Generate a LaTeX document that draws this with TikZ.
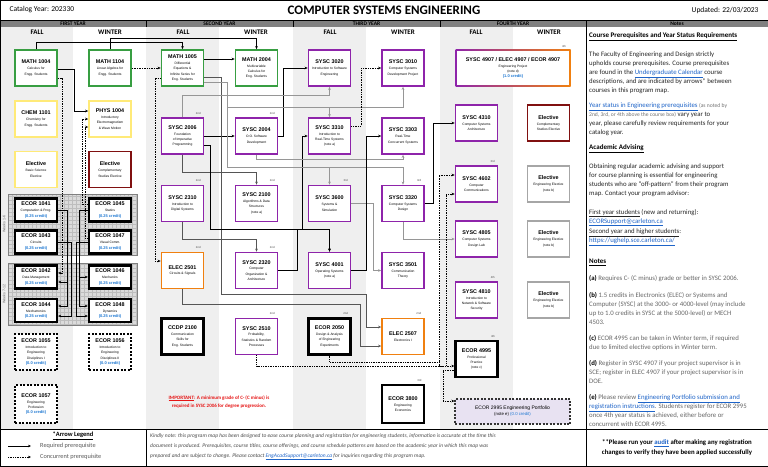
\documentclass[tikz,border=0pt]{standalone}
\usepackage{fontspec}
\setmainfont{Carlito}
\setsansfont{Liberation Sans}
\usetikzlibrary{arrows.meta,positioning,calc}

\definecolor{mathgreen}{RGB}{56,158,66}
\definecolor{sciyellow}{RGB}{255,234,120}
\definecolor{compred}{RGB}{128,16,16}
\definecolor{sysc}{RGB}{142,36,170}
\definecolor{elecorange}{RGB}{240,128,16}
\definecolor{fallgrey}{RGB}{239,239,239}
\definecolor{bargrey}{RGB}{128,128,128}
\definecolor{creditblue}{RGB}{30,120,210}
\definecolor{linkblue}{RGB}{30,100,200}
\definecolor{wire}{RGB}{150,150,150}
\definecolor{darkwire}{RGB}{85,85,85}
\definecolor{portfolio}{RGB}{232,226,242}
\definecolor{impred}{RGB}{230,20,20}

\tikzset{
  course/.style={draw, fill=white, line width=1.7pt, minimum width=42pt, minimum height=36pt,
    inner sep=0.5pt, align=center, font=\sffamily\fontsize{3.3}{5.4}\selectfont},
  mathbox/.style={course, draw=mathgreen},
  scibox/.style={course, draw=sciyellow},
  compbox/.style={course, draw=compred},
  syscbox/.style={course, draw=sysc},
  elecbox/.style={course, draw=elecorange},
  ecorbox/.style={course, draw=black, line width=2.4pt},
  ecorweek/.style={ecorbox, minimum height=23pt},
  zerobox/.style={course, draw=black, line width=1.3pt, dash pattern=on 2pt off 1.5pt},
  engelec/.style={course, draw=black!35},
  portbox/.style={draw=black!80, fill=portfolio, line width=1.2pt, dash pattern=on 2pt off 1.5pt,
    minimum width=115pt, minimum height=25pt, align=center, font=\sffamily\fontsize{4.3}{6}\selectfont},
  tag/.style={font=\sffamily\fontsize{2.8}{3}\selectfont, text=black!70, inner sep=0.5pt, anchor=south east},
  req/.style={line width=0.8pt, -{Stealth[length=3pt,width=2.6pt]}},
  darkreq/.style={req, draw=darkwire},
  grayreq/.style={req, draw=wire, line width=1pt},
  conc/.style={req, dash pattern=on 1pt off 0.7pt},
  notetext/.style={anchor=north west, inner sep=0pt, align=left, font=\fontsize{6.8}{9}\selectfont, text=black!85},
  notehead/.style={anchor=west, inner sep=0pt, font=\fontsize{7}{8}\selectfont\bfseries},
  season/.style={font=\fontsize{7}{8}\selectfont\bfseries},
  legtext/.style={anchor=west, inner sep=0pt, font=\fontsize{6.3}{7}\selectfont, text=black!65},
}
\newcommand{\code}[1]{{\fontsize{5.4}{6}\selectfont\bfseries #1}\\[0.5pt]}
\newcommand{\credit}[1]{{\color{creditblue}\fontsize{4}{5}\selectfont\bfseries (#1 credit)}}
\newcommand{\weblink}[1]{\textcolor{linkblue}{\underline{#1}}}

\begin{document}
\begin{tikzpicture}[x=1pt, y=-1pt]
\useasboundingbox (0,0) rectangle (768,466);
\fill[white] (0,0) rectangle (768,466);

% term columns
\foreach \x in {0,146,293,440}
  \fill[fallgrey] (\x,27) rectangle ++(73,402);
\fill[bargrey] (0,20) rectangle (768,27);
\draw[line width=0.6pt] (0,20) -- (768,20);
\foreach \x in {146,293,440}
  \draw[line width=0.8pt] (\x,20) -- (\x,27);
\draw[line width=0.8pt] (586,20) -- (586,466);
\draw[line width=0.8pt] (0,429) -- (768,429);
\draw[line width=0.8pt] (146,429) -- (146,466);
\draw[line width=0.8pt] (0,0) rectangle (768,466);

% header
\node[anchor=west, font=\fontsize{7.5}{8}\selectfont] (catalog) at (6,10) {Catalog Year: 202330};
\node[font=\fontsize{13}{14}\selectfont\bfseries] (title) at (384,10) {COMPUTER SYSTEMS ENGINEERING};
\node[anchor=east, font=\fontsize{7.5}{8}\selectfont] (updated) at (762,10) {Updated: 22/03/2023};
\foreach \lab/\x in {FIRST YEAR/73, SECOND YEAR/219.5, THIRD YEAR/366.5, FOURTH YEAR/513, Notes/677}
  \node[font=\fontsize{5.5}{6}\selectfont\bfseries] at (\x,23.5) {\lab};
\foreach \x in {37,183,330,476}
  \node[season] at (\x,32) {FALL};
\foreach \x in {110,256,403,549}
  \node[season] at (\x,32) {WINTER};

% ECOR blocks
\foreach \ya/\yb in {194/255, 263/325} {
  \fill[black!14] (8,\ya) rectangle (137,\yb);
  \draw[black!26, line width=0.35pt, step=4pt] (8,\yb) grid (137,\ya);
  \draw[black!50, line width=0.6pt] (8,\ya) rectangle (137,\yb);
}
\node[rotate=90, font=\sffamily\fontsize{3.6}{4}\selectfont, text=black!60] (wk1) at (4,224) {Weeks 1-6};
\node[rotate=90, font=\sffamily\fontsize{3.6}{4}\selectfont, text=black!60] (wk2) at (4,294) {Weeks 7-12};

% first year
\node[mathbox] (m1004) at (36,68) {\code{MATH 1004}Calculus for\\Engg. Students};
\node[mathbox] (m1104) at (110,68) {\code{MATH 1104}Linear Algebra for\\Engg. Students};
\node[scibox] (c1101) at (36,119) {\code{CHEM 1101}Chemistry for\\Engg. Students};
\node[scibox] (p1004) at (110,119) {\code{PHYS 1004}Introductory\\Electromagnetism\\\& Wave Motion};
\node[scibox] (bse) at (36,169.5) {\code{Elective}Basic Science\\Elective};
\node[compbox] (cse1) at (110,169.5) {\code{Elective}Complementary\\Studies Elective};
\foreach \num/\ttl/\x/\y in {1041/Computation \& Prog./36/210, 1045/Statics/110/210,
    1043/Circuits/36/242, 1047/Visual Comm./110/242, 1042/Data Management/36/277,
    1046/Mechanics/110/277, 1044/Mechatronics/36/310.5, 1048/Dynamics/110/310.5}
  \node[ecorweek] (e\num) at (\x,\y) {\code{ECOR \num}\ttl\\\credit{0.25}};
\node[zerobox] (e1055) at (36,352) {\code{ECOR 1055}Introduction to\\Engineering\\Disciplines I\\\credit{0.0}};
\node[zerobox] (e1056) at (110,352) {\code{ECOR 1056}Introduction to\\Engineering\\Disciplines II\\\credit{0.0}};
\node[zerobox, minimum height=38pt] (e1057) at (36,404) {\code{ECOR 1057}Engineering\\Profession\\\credit{0.0}};

% second year
\node[mathbox] (m1005) at (182.5,68) {\code{MATH 1005}Differential\\Equations \&\\Infinite Series for\\Eng. Students};
\node[mathbox] (m2004) at (256.5,68) {\code{MATH 2004}Multivariable\\Calculus for\\Eng. Students};
\node[syscbox] (s2006) at (182.5,136) {\code{SYSC 2006}Foundation\\of Imperative\\Programming};
\node[syscbox] (s2004) at (256.5,136) {\code{SYSC 2004}O.O. Software\\Development};
\node[syscbox] (s2310) at (182.5,203.5) {\code{SYSC 2310}Introduction to\\Digital Systems};
\node[syscbox] (s2100) at (256.5,203.5) {\code{SYSC 2100}Algorithms \& Data\\Structures\\(note a)};
\node[elecbox] (l2501) at (182.5,270.5) {\code{ELEC 2501}Circuits \& Signals};
\node[syscbox] (s2320) at (256.5,270.5) {\code{SYSC 2320}Computer\\Organization \&\\Architecture};
\node[ecorbox] (c2100) at (182.5,336.5) {\code{CCDP 2100}Communication\\Skills for\\Eng. Students};
\node[syscbox] (s2510) at (256.5,336.5) {\code{SYSC 2510}Probability,\\Statistics \& Random\\Processes};

% third year
\node[syscbox] (s3020) at (329.5,68) {\code{SYSC 3020}Introduction to Software\\Engineering};
\node[syscbox] (s3010) at (403,68) {\code{SYSC 3010}Computer Systems\\Development Project};
\node[syscbox] (s3310) at (329.5,136) {\code{SYSC 3310}Introduction to\\Real-Time Systems\\(note a)};
\node[syscbox] (s3303) at (403,136) {\code{SYSC 3303}Real-Time\\Concurrent Systems};
\node[syscbox] (s3600) at (329.5,203.5) {\code{SYSC 3600}Systems \&\\Simulation};
\node[syscbox] (s3320) at (403,203.5) {\code{SYSC 3320}Computer Systems\\Design};
\node[syscbox] (s4001) at (329.5,270.5) {\code{SYSC 4001}Operating Systems\\(note a)};
\node[syscbox] (s3501) at (403,270.5) {\code{SYSC 3501}Communication\\Theory};
\node[ecorbox] (e2050) at (329.5,336.5) {\code{ECOR 2050}Design \& Analysis\\of Engineering\\Experiments};
\node[elecbox] (l2507) at (403,336.5) {\code{ELEC 2507}Electronics I};
\node[ecorbox, minimum height=38pt] (e3800) at (403,404) {\code{ECOR 3800}Engineering\\Economics};

% fourth year
\shade[left color=sysc, right color=elecorange] (455.5,49.5) rectangle (570.5,86.5);
\node[course, draw=none, minimum width=111.6pt, minimum height=33.6pt] (cap) at (513,68)
  {{\fontsize{5.4}{6}\selectfont\bfseries SYSC 4907 / ELEC 4907 / ECOR 4907}\\[0.5pt]Engineering Project\\(note d)\\\credit{1.0}};
\node[syscbox] (s4310) at (476.5,123) {\code{SYSC 4310}Computer Systems\\Architecture};
\node[compbox] (cse2) at (548.5,123) {\code{Elective}Complementary\\Studies Elective};
\node[syscbox] (s4602) at (476.5,184) {\code{SYSC 4602}Computer\\Communications};
\node[syscbox] (s4805) at (476.5,239) {\code{SYSC 4805}Computer Systems\\Design Lab};
\node[syscbox] (s4810) at (476.5,300) {\code{SYSC 4810}Introduction to\\Network \& Software\\Security};
\node[ecorbox] (e4995) at (476.5,359) {\code{ECOR 4995}Professional\\Practice\\(note c)};
\foreach \y [count=\i] in {184,239,300}
  \node[engelec] (ee\i) at (548.5,\y) {\code{Elective}Engineering Elective\\(note b)};
\node[portbox] (e2995) at (512.5,411.5) {{\fontsize{5}{6}\selectfont ECOR 2995 Engineering Portfolio}\\(note e) {\color{creditblue}(0.0 credit)}};

% year status tags
\foreach \b/\t in {s2006/2nd, s2004/2nd, s2310/2nd, s2100/2nd, l2501/2nd, s2320/2nd, s2510/2nd,
    e2050/2nd, l2507/2nd, s3600/3rd, s3320/3rd, e3800/3rd, s4602/3rd, s4810/4th, e4995/4th, cap/4th}
  \node[tag] at ($(\b.north east)+(-3,-2)$) {\t};

% first year prerequisites
\draw[req] (m1004.north) -- ++(0,-7) -| (m1005.north);
\draw[req] (m1104.north) -- ++(0,-11) -| (m2004.north);
\draw[req] (m1004.east |- 0,69) -- (74,69) |- (p1004.west |- 0,111);
\draw[conc] (m1104.east) -- (m1005.west);
\draw[conc] (m1004.east |- 0,78) -- (62,78) |- (e1042.east |- 0,273);
\draw[req] (e1041.east) -- (67,210) |- (e1042.east |- 0,282);
\draw[req] (e1041.east) -- (67,210) |- (e1044.east |- 0,306);
\draw[req] (e1043.east) -- (71,242) |- (e1044.east |- 0,316);
\draw[req] (e1045.west) -- (79,210) |- (e1046.west |- 0,277);
\draw[req] (e1045.west) -- (79,210) |- (e1048.west |- 0,306);
\draw[req] (e1047.west) -- (76,242) |- (e1048.west |- 0,316);
\draw[conc] (e1045.west |- 0,204) -- (82,204) |- (p1004.west |- 0,119);
\draw[conc] (e1047.west |- 0,238) -- (85,238) |- (p1004.west |- 0,127);

% second and third year prerequisites
\draw[req] (m1005.east |- 0,59) -- (m2004.west |- 0,59);
\draw[conc] (m1005.west |- 0,78) -- (155,78) |- (l2501.west |- 0,261);
\draw[req] (s2006.east) -- (s2004.west);
\draw[darkreq] (s2006.south) -- ++(0,18) -| (s2100.north);
\draw[darkreq] (s2310.south) -- ++(0,17) -| (s2320.north);
\draw[darkreq] (m1005.east |- 0,77) -- (221,77) -- (221,294) -- (366,294) -- (366,327) -- (l2507.west |- 0,327);
\draw[darkreq] (l2501.south) -- (182.5,304) -- (360,304) -- (360,346) -- (l2507.west |- 0,346);
\draw[req] (s2004.east) -- (283,136) |- (s3020.west);
\draw[req] (s2006.east |- 0,145) -- (210,145) |- (s4001.north |- 0,229) -- (s4001.north);
\draw[req] (s2006.east |- 0,145) -- (210,145) -- (210,229) -- (302,229) |- (s3310.west);
\draw[req] (s2320.east) -- (297,270.5) -- (297,229) -| (s4001.north);
\draw[grayreq] (s2006.north) -- (182.5,95) -| (s3020.south);
\draw[grayreq] (m1005.east |- 0,82) -- (227,82) |- (s3310.north |- 0,107) -- (s3310.north);
\draw[grayreq] (m1005.east |- 0,82) -- (227,82) |- (s3010.south |- 0,107) -- (s3010.south);
\draw[grayreq] (m1005.east |- 0,82) -- (227,82) |- (s3600.north |- 0,167) -- (s3600.north);
\draw[grayreq] (m1005.east |- 0,82) -- (227,82) |- (s3320.north |- 0,167) -- (s3320.north);
\draw[grayreq] (s2004.south) -- (256.5,159) -| (s3303.south);
\draw[grayreq] (s3600.east) -- (373,203.5) |- (s3501.west);
\draw[grayreq] (s3320.south) |- (s4805.west);
\draw[conc] (s3310.east |- 0,126) -- (361,126) |- (s3010.west);
\draw[req] (s4001.east) -- (366,270.5) |- (s3303.west);
\draw[req] (s3320.east) -- (433,203.5) |- (s4310.west);
\draw[conc] (e2050.south) -- (329.5,362) -- (439,362) |- (s4602.west |- 0,175);
\draw[conc] (s2510.south) -- (256.5,366) -- (446,366) |- (s4602.west |- 0,194);
\draw[conc] (e2050.south) -- (329.5,362) -- (439,362) |- (e4995.west |- 0,366);
\draw[conc] (e4995.west |- 0,370) -- (443,370) |- (e2995.west |- 0,401);

% note
\node[text=impred, align=center, font=\fontsize{5}{8.5}\selectfont\bfseries] (important) at (219,402)
  {\underline{IMPORTANT}: A minimum grade of C- (C minus) is\\required in SYSC 2006 for degree progression.};

% legend
\node[font=\fontsize{6.5}{7}\selectfont\bfseries] (legend) at (73,436) {\underline{*Arrow Legend}};
\coordinate (reqa) at (8,446);
\coordinate (reqb) at (31,446);
\coordinate (cona) at (8,457);
\coordinate (conb) at (31,457);
\draw[req] (reqa) -- (reqb);
\draw[conc] (cona) -- (conb);
\node[legtext] (reqlab) at (40,446) {Required prerequisite};
\node[legtext] (conlab) at (40,457) {Concurrent prerequisite};
\node[anchor=north west, inner sep=0pt, align=left, font=\itshape\fontsize{5.5}{10}\selectfont, text=black!70] (disclaimer) at (150,433)
  {Kindly note: this program map has been designed to ease course planning and registration for engineering students, information is accurate at the time this\\
   document is produced. Prerequisites, course titles, course offerings, and course schedule patterns are based on the academic year in which this map was\\
   prepared and are subject to change. Please contact \weblink{EngAcadSupport@carleton.ca} for inquiries regarding this program map.};

% notes column
\node[notehead] (nh1) at (589,37) {\underline{Course Prerequisites and Year Status Requirements}};
\node[notetext] (np1) at (589,52) {The Faculty of Engineering and Design strictly\\
  upholds course prerequisites. Course prerequisites\\
  are found in the \weblink{Undergraduate Calendar} course\\
  descriptions, and are indicated by arrows* between\\
  courses in this program map.};
\node[notetext] (np2) at (589,103) {\weblink{Year status in Engineering prerequisites} {\color{black!55}\fontsize{5.6}{9}\selectfont(as noted by}\\
  {\color{black!55}\fontsize{5.6}{9}\selectfont 2nd, 3rd, or 4th above the course box)} vary year to\\
  year, please carefully review requirements for your\\
  catalog year.};
\node[notehead] (nh2) at (589,149) {\underline{Academic Advising}};
\node[notetext] (np3) at (589,164) {Obtaining regular academic advising and support\\
  for course planning is essential for engineering\\
  students who are ``off-pattern'' from their program\\
  map. Contact your program advisor:};
\node[notetext] (np4) at (589,209) {\underline{First year students} (new and returning):\\
  \weblink{ECORSupport@carleton.ca}\\[1.5pt]
  \underline{Second year and higher students}:\\
  \weblink{https://ughelp.sce.carleton.ca/}};
\node[notehead] (nh3) at (589,262) {\underline{Notes}};
\node[notetext, text=black!60] (na) at (589,275) {\textbf{\color{black}(a)} Requires C- (C minus) grade or better in SYSC 2006.};
\node[notetext, text=black!60] (nb) at (589,292) {\textbf{\color{black}(b)} 1.5 credits in Electronics (ELEC) or Systems and\\
  Computer (SYSC) at the 3000- or 4000-level (may include\\
  up to 1.0 credits in SYSC at the 5000-level) or MECH\\
  4503.};
\node[notetext, text=black!60] (nc) at (589,335) {\textbf{\color{black}(c)} ECOR 4995 can be taken in Winter term, if required\\
  due to limited elective options in Winter term.};
\node[notetext, text=black!60] (nd) at (589,360) {\textbf{\color{black}(d)} Register in SYSC 4907 if your project supervisor is in\\
  SCE; register in ELEC 4907 if your project supervisor is in\\
  DOE.};
\node[notetext, text=black!60] (ne) at (589,394) {\textbf{\color{black}(e)} Please review \weblink{Engineering Portfolio submission and}\\
  \weblink{registration instructions}. Students register for ECOR 2995\\
  once 4th year status is achieved, either before or\\
  concurrent with ECOR 4995.};
\node[align=center, inner sep=0pt, font=\fontsize{6.8}{10}\selectfont\bfseries] (audit) at (677,448)
  {**Please run your \weblink{audit} after making any registration\\changes to verify they have been applied successfully};
\end{tikzpicture}
\end{document}
